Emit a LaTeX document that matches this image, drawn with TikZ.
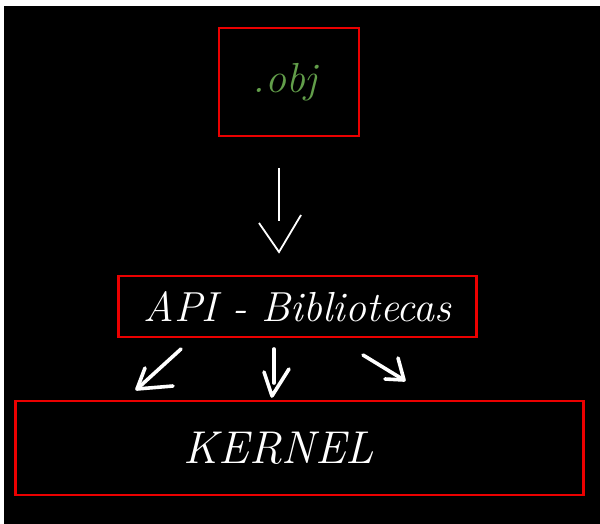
\documentclass[tikz,border=0pt]{standalone}
\usepackage{xcolor}
\usepackage{tikz}
\usetikzlibrary{calc}

\definecolor{vermelho}{RGB}{235,0,0}
\definecolor{verdeobj}{RGB}{98,158,74}

\begin{document}
\begin{tikzpicture}[
        x=1pt, y=-1pt,
        caixa/.style={draw=vermelho, line width=2.6pt, inner sep=0pt,
          text=white, font=\itshape\fontsize{42}{46}\selectfont},
        seta/.style={draw=white, line width=3.6pt, line cap=round, line join=round},
        setafina/.style={draw=white, line width=1.8pt},
      ]

      % Fundo
      \fill[white] (0,0) rectangle (600,524);
      \fill[black] (4,6) rectangle (600,524);

      % Caixas
      \node[caixa, line width=2pt, minimum width=140pt, minimum height=108pt,
        text=verdeobj, font=\itshape\fontsize{42}{46}\selectfont]
        (obj) at (289,82.5) {.obj\hspace*{8pt}};
      \node[caixa, minimum width=358pt, minimum height=61pt]
        (api) at (297.5,306.5) {API - Bibliotecas};
      \node[caixa, minimum width=568pt, minimum height=94pt,
        font=\itshape\fontsize{46}{50}\selectfont]
        (kernel) at (299.5,448) {KERNEL\hspace*{41pt}};

      % Pontos das setas
      \coordinate (s0) at (279,168);
      \coordinate (s1) at (279,221);
      \coordinate (p0) at (181,349);
      \coordinate (p1) at (137,389);
      \coordinate (m0) at (274,349);
      \coordinate (m1) at (272,396);
      \coordinate (d0) at (363,355);
      \coordinate (d1) at (404,380);

      % Seta principal
      \draw[setafina] (s0) -- (s1);
      \draw[setafina] ($(s1)+(-20,2)$) -- ($(s1)+(0,31)$) -- ($(s1)+(22,-6)$);

      % Setas para o kernel
      \draw[seta] (p0) -- (p1);
      \draw[seta] ($(p1)+(8,-21)$) -- (p1) -- ($(p1)+(36,-3)$);
      \draw[seta] (m0) -- ($(m1)+(2,-13)$);
      \draw[seta] ($(m1)+(-8,-24)$) -- (m1) -- ($(m1)+(17,-27)$);
      \draw[seta] (d0) -- (d1);
      \draw[seta] ($(d1)+(-6,-22)$) -- (d1) -- ($(d1)+(-19,-1)$);

    \end{tikzpicture}
\end{document}
